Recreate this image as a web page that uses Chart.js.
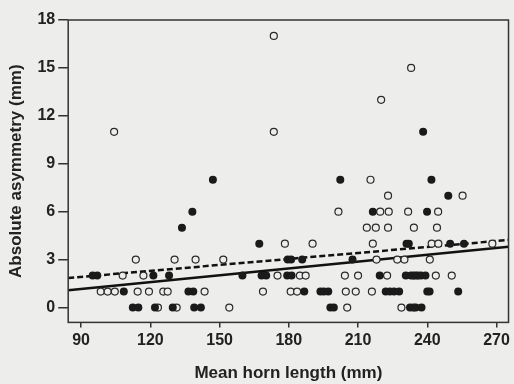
<!DOCTYPE html>
<html>
<head>
<meta charset="utf-8">
<script src="https://cdn.jsdelivr.net/npm/chart.js@4.4.1/dist/chart.umd.min.js"></script>
<style>
  html, body { margin: 0; padding: 0; background: #ededeb; }
  #wrap { width: 514px; height: 384px; }
</style>
</head>
<body>
<div id="wrap"><canvas id="chart" width="514" height="384"></canvas></div>
<script>
// values
const filledX = [147.1, 202.3, 241.8, 238.2, 249.1, 138.2, 216.4, 239.9, 133.7,
  167.2, 231, 232, 249.9, 255.9, 179.5, 181, 185.8, 207.6,
  95, 97, 121.3, 128.1, 159.9, 168.2, 170.2, 179.3, 181.2, 219.4, 230.7, 232.9, 235, 237.3, 239.2,
  108.5, 136.5, 138.6, 186.7, 193.7, 195.2, 197.1, 222, 223.8, 225.6, 227.8, 240, 241, 253.4,
  112.4, 114.8, 122, 129.7, 139, 141.9, 198, 199.5, 232.5, 235, 237.5];
const filledY = [8, 8, 8, 11, 7, 6, 6, 6, 5,
  4, 4, 4, 4, 4, 3, 3, 3, 3,
  2, 2, 2, 2, 2, 2, 2, 2, 2, 2, 2, 2, 2, 2, 2,
  1, 1, 1, 1, 1, 1, 1, 1, 1, 1, 1, 1, 1, 1,
  0, 0, 0, 0, 0, 0, 0, 0, 0, 0, 0];

const openX = [173.5, 233, 220, 104.3, 173.5, 215.4, 223, 255.3,
  201.5, 219.6, 223.3, 231.7, 244.7,
  213.8, 217.7, 223, 234.2, 244.2,
  178.3, 190.3, 216.4, 241.9, 244.8, 268.2,
  113.7, 130.5, 139.6, 151.6, 218, 227, 230.1, 241.1,
  108, 117, 175.1, 184.8, 187.3, 204.3, 210, 222.6, 234, 236, 243.7, 250.6,
  98.5, 101.5, 104.6, 114.5, 119.4, 125.6, 127.5, 143.5, 168.8, 180.8, 183.6, 204.7, 209, 216,
  123.3, 131.4, 154.2, 205.3, 228.8, 234];
const openY = [17, 15, 13, 11, 11, 8, 7, 7,
  6, 6, 6, 6, 6,
  5, 5, 5, 5, 5,
  4, 4, 4, 4, 4, 4,
  3, 3, 3, 3, 3, 3, 3, 3,
  2, 2, 2, 2, 2, 2, 2, 2, 2, 2, 2, 2,
  1, 1, 1, 1, 1, 1, 1, 1, 1, 1, 1, 1, 1, 1,
  0, 0, 0, 0, 0, 0];

// regression lines, end points at the plot edges
const solidLineX = [84.4, 275.2];
const solidLineY = [1.08, 3.8];
const dashLineX = [84.4, 275.2];
const dashLineY = [1.85, 4.23];

const xTicks = [90, 120, 150, 180, 210, 240, 270];
const yTicks = [0, 3, 6, 9, 12, 15, 18];

function pts(xs, ys) {
  return xs.map((x, i) => ({ x: x, y: ys[i] }));
}

const ink = '#222222';
const bg = '#ededeb';

// box round the plot area
const frame = {
  id: 'frame',
  afterDatasetsDraw(chart) {
    const a = chart.chartArea;
    const c = chart.ctx;
    c.save();
    c.strokeStyle = '#333333';
    c.lineWidth = 1.5;
    c.strokeRect(a.left, a.top, a.right - a.left, a.bottom - a.top);
    c.restore();
  }
};

new Chart(document.getElementById('chart').getContext('2d'), {
  type: 'scatter',
  data: {
    datasets: [
      {
        data: pts(solidLineX, solidLineY),
        showLine: true, borderColor: '#111', borderWidth: 2.5,
        pointRadius: 0, order: 3
      },
      {
        data: pts(dashLineX, dashLineY),
        showLine: true, borderColor: '#111', borderWidth: 2.5, borderDash: [6, 3],
        pointRadius: 0, order: 4
      },
      {
        data: pts(openX, openY),
        pointRadius: 3.5, borderWidth: 1.2,
        borderColor: '#2a2a2a', backgroundColor: bg, order: 2
      },
      {
        data: pts(filledX, filledY),
        pointRadius: 4, borderWidth: 0,
        backgroundColor: '#1a1a1a', order: 1
      }
    ]
  },
  options: {
    responsive: false,
    animation: false,
    layout: { padding: { top: 20, right: 5, left: 6, bottom: 0 } },
    plugins: { legend: { display: false }, tooltip: { enabled: false } },
    scales: {
      x: {
        type: 'linear', min: 84.4, max: 275.2,
        afterBuildTicks: s => { s.ticks = xTicks.map(v => ({ value: v })); },
        grid: { drawOnChartArea: false, tickLength: 5, color: '#333', lineWidth: 1.5 },
        border: { display: false },
        ticks: { color: ink, font: { family: 'Liberation Sans', size: 16, weight: 'bold' }, padding: 4, maxRotation: 0 },
        title: { display: true, text: 'Mean horn length (mm)', color: ink,
          font: { family: 'Liberation Sans', size: 17, weight: 'bold' }, padding: { top: 9, bottom: 0 } }
      },
      y: {
        min: -0.93, max: 18,
        afterBuildTicks: s => { s.ticks = yTicks.map(v => ({ value: v })); },
        grid: { drawOnChartArea: false, tickLength: 10, color: '#333', lineWidth: 1.5 },
        border: { display: false },
        ticks: { color: ink, font: { family: 'Liberation Sans', size: 16, weight: 'bold' }, padding: 3 },
        title: { display: true, text: 'Absolute asymmetry (mm)', color: ink,
          font: { family: 'Liberation Sans', size: 17, weight: 'bold' }, padding: { top: 0, bottom: 8 } }
      }
    }
  },
  plugins: [frame]
});
</script>
</body>
</html>
